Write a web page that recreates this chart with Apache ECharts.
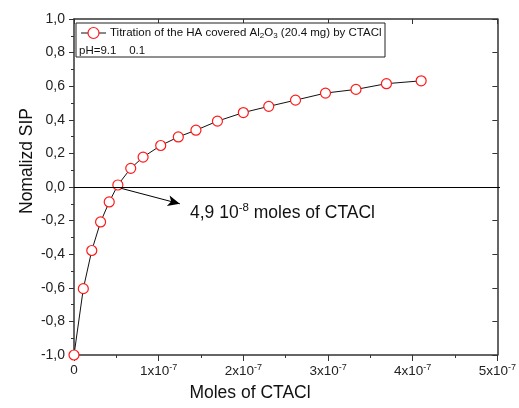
<!DOCTYPE html>
<html><head><meta charset="utf-8">
<script src="https://cdn.jsdelivr.net/npm/echarts@6/dist/echarts.min.js"></script>
<style>html,body{margin:0;padding:0;background:#fff}#c{width:519px;height:408px}</style>
</head><body><div id="c"></div>
<script>
// Data (x in moles of CTACl, y = normalized SIP)
const molesCTACl = [0, 0.11e-7, 0.21e-7, 0.314e-7, 0.416e-7, 0.518e-7, 0.67e-7, 0.816e-7, 1.024e-7, 1.232e-7, 1.44e-7, 1.694e-7, 2.0e-7, 2.30e-7, 2.616e-7, 2.97e-7, 3.33e-7, 3.69e-7, 4.10e-7];
const normSIP    = [-1.0, -0.605, -0.378, -0.208, -0.089, 0.012, 0.111, 0.178, 0.247, 0.298, 0.338, 0.392, 0.443, 0.48, 0.517, 0.559, 0.581, 0.615, 0.632];
const xTickValues = [0, 1e-7, 2e-7, 3e-7, 4e-7, 5e-7];
const yTickValues = [-1.0, -0.8, -0.6, -0.4, -0.2, 0.0, 0.2, 0.4, 0.6, 0.8, 1.0];
const arrowStart = [0.558e-7, -0.008];
const arrowEnd = [1.25e-7, -0.1];
const seriesName = 'Titration of the HA covered Al2O3 (20.4 mg) by CTACl';

const FONT = '"Liberation Sans", Arial, sans-serif';
const chart = echarts.init(document.getElementById('c'), null, {renderer: 'canvas'});
const pts = molesCTACl.map((x, i) => [x, normSIP[i]]);

function xLab(v) {
  const n = Math.round(v / 1e-7);
  if (n === 0) return '{b|0}';
  return '{b|' + n + 'x10}{s|-7}';
}
function yLab(v) {
  if (Math.abs(v) < 1e-9) return '0,0';
  return v.toFixed(1).replace('.', ',');
}
const axisLine = {lineStyle: {color: '#333', width: 1.5}};
chart.setOption({
  animation: false,
  grid: {left: 74, right: 19, top: 19, bottom: 53},
  xAxis: [{
    type: 'value', min: 0, max: 5e-7, interval: 1e-7,
    axisLine: Object.assign({onZero: false}, axisLine),
    axisTick: {show: true, length: 6, lineStyle: {color: '#333', width: 1}},
    minorTick: {show: true, splitNumber: 2, length: 3, lineStyle: {color: '#333'}},
    splitLine: {show: false},
    axisLabel: {
      margin: 8, formatter: xLab, verticalAlign: 'top',
      rich: {
        b: {fontSize: 13.5, fontFamily: FONT, color: '#222', verticalAlign: 'bottom'},
        s: {fontSize: 9, fontFamily: FONT, color: '#222', verticalAlign: 'top', padding: [0,0,6,0]}
      }
    }
  }, {
    type: 'value', min: 0, max: 5e-7, interval: 1e-7, position: 'top',
    axisLine: Object.assign({onZero: false}, axisLine),
    axisTick: {show: true, inside: true, length: 5, lineStyle: {color: '#333'}},
    minorTick: {show: false},
    axisLabel: {show: false}, splitLine: {show: false}
  }],
  yAxis: [{
    type: 'value', min: -1, max: 1, interval: 0.2,
    axisLine: Object.assign({onZero: false}, axisLine),
    axisTick: {show: true, length: 5, lineStyle: {color: '#333'}},
    minorTick: {show: true, splitNumber: 2, length: 3, lineStyle: {color: '#333'}},
    splitLine: {show: false},
    axisLabel: {margin: 9, formatter: yLab, fontSize: 14, fontFamily: FONT, color: '#222'}
  }, {
    type: 'value', min: -1, max: 1, interval: 0.2, position: 'right',
    axisLine: Object.assign({onZero: false}, axisLine),
    axisTick: {show: true, inside: true, length: 5, lineStyle: {color: '#333'}},
    axisLabel: {show: false}, splitLine: {show: false}
  }],
  series: [{
    name: seriesName,
    type: 'line', xAxisIndex: 0, yAxisIndex: 0,
    data: pts,
    symbol: 'circle', symbolSize: 10,
    itemStyle: {color: '#fff', borderColor: '#ff1a1a', borderWidth: 1.2},
    lineStyle: {color: '#111', width: 1},
    z: 3,
    markLine: {
      silent: true, animation: false,
      label: {show: false},
      data: [
        [{coord: arrowStart, symbol: 'none'}, {coord: arrowEnd, symbol: 'arrow', symbolSize: [8, 12]}],
        [{yAxis: 0, x: 74, symbol: 'none'}, {yAxis: 0, x: 500, symbol: 'none'}]
      ],
      lineStyle: {color: '#000', width: 1, type: 'solid'}
    }
  }],
  graphic: [
    {type: 'rect', shape: {x: 76, y: 23, width: 309, height: 34}, style: {fill: '#fff', stroke: '#222', lineWidth: 1}, z: 10},
    {type: 'line', shape: {x1: 81, y1: 33, x2: 106, y2: 33}, style: {stroke: '#111', lineWidth: 1}, z: 11},
    {type: 'circle', shape: {cx: 93.5, cy: 33, r: 5.5}, style: {fill: '#fff', stroke: '#ff1a1a', lineWidth: 1.2}, z: 12},
    {type: 'text', x: 110, y: 33, z: 12, style: {
      text: '{a|Titration of the HA covered Al}{s|2}{a|O}{s|3}{a| (20.4 mg) by CTACl}',
      verticalAlign: 'middle',
      rich: {
        a: {fontSize: 11.5, fontFamily: FONT, fill: '#111'},
        s: {fontSize: 8, fontFamily: FONT, fill: '#111', padding: [6, 0, 0, 0]}
      }
    }},
    {type: 'text', x: 79, y: 51, z: 12, style: {text: 'pH=9.1    0.1', fontSize: 11.5, fontFamily: FONT, fill: '#111', verticalAlign: 'middle'}},
    {type: 'text', x: 190, y: 213, z: 12, style: {
      text: '{a|4,9 10}{s|-8}{a| moles of CTACl}', verticalAlign: 'middle',
      rich: {
        a: {fontSize: 17.5, fontFamily: FONT, fill: '#111'},
        s: {fontSize: 11.5, fontFamily: FONT, fill: '#111', padding: [0, 0, 10, 0]}
      }
    }},
    {type: 'text', x: 250, y: 393, z: 12, style: {text: 'Moles of CTACl', fontSize: 17.5, fontFamily: FONT, fill: '#111', align: 'center', verticalAlign: 'middle'}},
    {type: 'text', x: 27, y: 161, rotation: Math.PI / 2, z: 12, style: {text: 'Nomalizd SIP', fontSize: 17.5, fontFamily: FONT, fill: '#111', align: 'center', verticalAlign: 'middle'}}
  ]
});
</script></body></html>
